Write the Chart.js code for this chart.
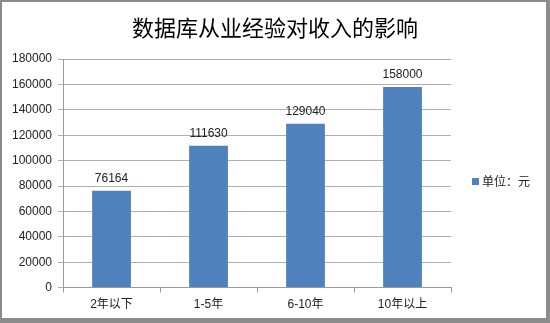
<!DOCTYPE html>
<html lang="zh">
<head>
<meta charset="utf-8" />
<script src="https://cdn.jsdelivr.net/npm/chart.js"></script>
<style>
  html, body { margin: 0; padding: 0; background: #fff; }
  #box { position: relative; width: 550px; height: 323px; }
</style>
</head>
<body>
<div id="box"><canvas id="myChart" width="550" height="323"></canvas></div>
<script>
  const categories = ['2年以下', '1-5年', '6-10年', '10年以上'];
  const incomes = [76164, 111630, 129040, 158000];
  const seriesName = '单位：元';
  const titleText = '数据库从业经验对收入的影响';

  const FONT = "'Liberation Sans', 'Noto Sans CJK SC', sans-serif";
  const TITLE_FONT = "'Noto Sans CJK SC', sans-serif";

  // 外枠 + タイトル
  const framePlugin = {
    id: 'frame',
    beforeDraw(chart) {
      const c = chart.ctx;
      c.save();
      c.fillStyle = '#fff';
      c.fillRect(0, 0, 550, 323);
      c.fillStyle = '#8c8c8c';
      c.fillRect(0, 0, 550, 2);
      c.fillRect(0, 0, 2, 323);
      c.fillRect(546, 0, 4, 323);
      c.fillRect(0, 318, 550, 5);
      c.fillStyle = '#000';
      c.font = '22px ' + TITLE_FONT;
      c.textAlign = 'center';
      c.textBaseline = 'middle';
      c.fillText(titleText, 275, 28);
      c.restore();
    }
  };

  // 棒の上に値 + 凡例
  const labelPlugin = {
    id: 'valueLabels',
    afterDatasetsDraw(chart) {
      const c = chart.ctx;
      const meta = chart.getDatasetMeta(0);
      c.save();
      c.font = '12px ' + FONT;
      c.fillStyle = '#222';
      c.textAlign = 'center';
      c.textBaseline = 'bottom';
      meta.data.forEach((bar, i) => {
        c.fillText(String(incomes[i]), bar.x, bar.y - 6);
      });
      // legend
      const lx = chart.chartArea.right + 21;
      const ly = 181;
      c.fillStyle = '#4f81bd';
      c.fillRect(lx, ly - 3, 7, 7);
      c.fillStyle = '#222';
      c.textAlign = 'left';
      c.textBaseline = 'middle';
      c.font = '12px ' + TITLE_FONT;
      c.fillText(seriesName, lx + 10, ly);
      c.restore();
    }
  };

  const ctx = document.getElementById('myChart').getContext('2d');
  new Chart(ctx, {
    type: 'bar',
    data: {
      labels: categories,
      datasets: [{
        label: seriesName,
        data: incomes,
        backgroundColor: '#4f81bd',
        borderWidth: 0,
        barPercentage: 0.4,
        categoryPercentage: 1.0
      }]
    },
    options: {
      responsive: false,
      animation: false,
      layout: { padding: { left: 6, right: 99, top: 59, bottom: 6 } },
      plugins: {
        title: { display: false },
        legend: { display: false },
        tooltip: { enabled: false }
      },
      scales: {
        x: {
          grid: { display: true, drawOnChartArea: false, offset: true, color: '#9a9a9a', tickLength: 5 },
          border: { color: '#9a9a9a' },
          ticks: { color: '#222', font: { family: FONT, size: 12 }, padding: 5 }
        },
        y: {
          min: 0,
          max: 180000,
          ticks: {
            stepSize: 20000, color: '#222', font: { family: FONT, size: 12 }, padding: 6,
            callback: (v) => String(v)
          },
          grid: { color: '#b0b0b0', tickLength: 5 },
          border: { color: '#9a9a9a' }
        }
      }
    },
    plugins: [framePlugin, labelPlugin]
  });
</script>
</body>
</html>
